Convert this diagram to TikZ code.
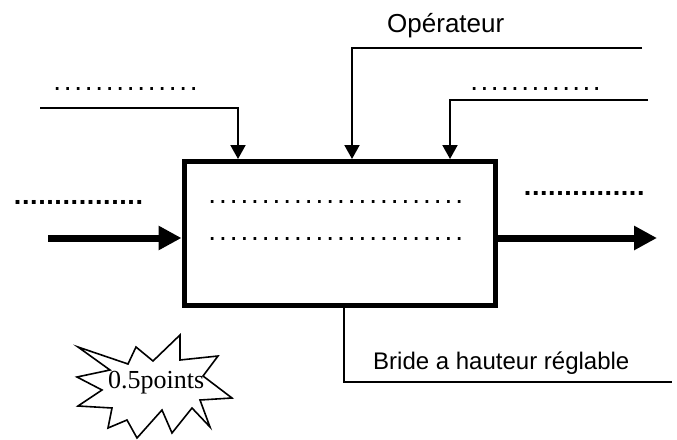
\documentclass[tikz,border=0pt]{standalone}
\usepackage{fontspec}
\setmainfont{Liberation Sans}
\newfontfamily\serifface{Liberation Serif}
\usetikzlibrary{arrows.meta}

% a row of #1 periods, one every #2
\newcommand\dotrow[2]{\hbox{\xleaders\hbox to #2{\hss.\hss}\hskip\dimexpr #2*#1\relax}}

\tikzset{
  flow/.style={line width=7pt, -{Triangle[length=23pt,width=23pt]}},
  ctrl/.style={line width=2pt, -{Triangle[length=14pt,width=15pt]}},
  plain/.style={line width=1.6pt},
  label/.style={inner sep=0pt, anchor=base west, font=\fontsize{24}{28}\selectfont},
  thindots/.style={inner sep=0pt, anchor=base west, font=\fontsize{28}{30}\selectfont},
  bolddots/.style={inner sep=0pt, anchor=base west, font=\fontsize{27}{30}\selectfont\bfseries},
  box/.style={draw, line width=5pt, inner sep=0pt, minimum width=311.5pt, minimum height=143.5pt},
  burst/.style={draw, line width=1.6pt, line join=miter}
}

\begin{document}
\begin{tikzpicture}[x=1pt, y=-1pt]
\useasboundingbox (0,0) rectangle (677,439);

% process box
\node[box] (proc) at (339.75,233.25) {};

% box contents
\node[thindots] (d1) at (206.6,203.5) {\dotrow{24}{10.74pt}};
\node[thindots] (d2) at (206.6,240.5) {\dotrow{24}{10.74pt}};

% input and output
\coordinate (in) at (48,238);
\coordinate (out) at (657,238);
\draw[flow] (in) -- (in -| proc.west);
\draw[flow] (proc.east |- out) -- (out);
\node[bolddots] (inlab) at (13.5,204.5) {\dotrow{16}{8.1pt}};
\node[bolddots] (outlab) at (523.5,195.5) {\dotrow{15}{8.07pt}};

% controls from above
\coordinate (c1) at (40,108);
\coordinate (c1x) at (238,0);
\draw[ctrl] (c1) -| (c1x |- proc.north);
\node[thindots] (c1lab) at (51.8,90) {\dotrow{14}{10.5pt}};

\coordinate (c2) at (642,48);
\coordinate (c2x) at (352,0);
\draw[ctrl] (c2) -| (c2x |- proc.north);
\node[label, font=\fontsize{26}{30}\selectfont] (oper) at (387,32) {Opérateur};

\coordinate (c3) at (648,100);
\coordinate (c3x) at (450,0);
\draw[ctrl] (c3) -| (c3x |- proc.north);
\node[thindots] (c3lab) at (469,90) {\dotrow{13}{10.2pt}};

% mechanism below
\coordinate (m0) at (344,0);
\coordinate (m1) at (672,382);
\draw[plain] (m0 |- proc.south) |- (m1);
\node[label] (bride) at (373,369) {Bride a hauteur réglable};

% starburst with the mark
\draw[burst] (78,347) -- (128,364) -- (136,347) -- (153,361) -- (180,335)
  -- (180,360) -- (218,356) -- (203,376) -- (232,398) -- (200,400)
  -- (210,427) -- (192,408) -- (172,433) -- (162,410) -- (137,438)
  -- (127,420) -- (108,428) -- (112,408) -- (78,406) -- (102,390)
  -- (77,377) -- (110,370) -- cycle;
\node[inner sep=0pt, anchor=base west, font=\serifface\fontsize{26}{30}\selectfont] (pts) at (108,388) {0.5points};
\end{tikzpicture}
\end{document}
